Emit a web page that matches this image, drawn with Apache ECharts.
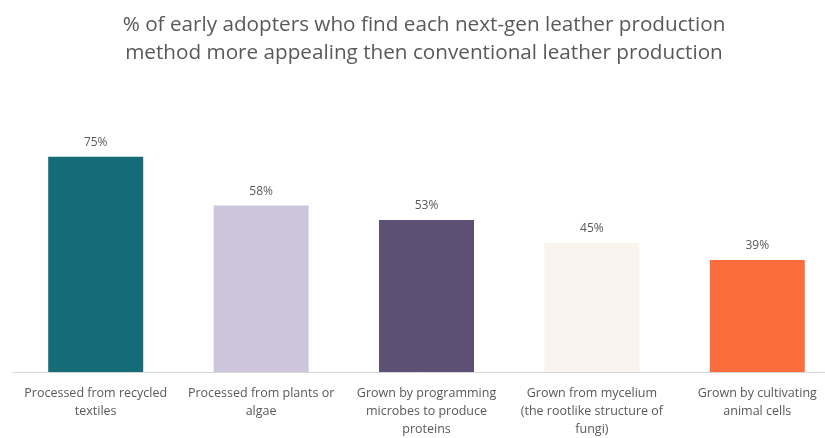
<!DOCTYPE html>
<html>
<head>
<meta charset="utf-8">
<script src="https://cdn.jsdelivr.net/npm/echarts@6/dist/echarts.min.js"></script>
<style>
  html, body { margin: 0; padding: 0; background: #fff; }
  #chartmain { width: 825px; height: 438px; }
</style>
</head>
<body>
<div id="chartmain"></div>
<script>
var titleText = '% of early adopters who find each next-gen leather production\nmethod more appealing then conventional leather production';
var categories = [
    'Processed from recycled\ntextiles',
    'Processed from plants or\nalgae',
    'Grown by programming\nmicrobes to produce\nproteins',
    'Grown from mycelium\n(the rootlike structure of\nfungi)',
    'Grown by cultivating\nanimal cells'
];
var values = [75, 58, 53, 45, 39];
var barColors = ['#156b78', '#cdc5dc', '#5e5074', '#f9f5ee', '#fb6d3c'];

var myChart = echarts.init(document.getElementById('chartmain'));
var option = {
    animation: false,
    title: {
        text: titleText,
        left: 419,
        textAlign: 'center',
        top: 6,
        textStyle: {
            fontFamily: 'Open Sans',
            fontSize: 20.7,
            fontWeight: 'normal',
            color: '#595959',
            lineHeight: 28
        }
    },
    grid: {
        left: 13,
        width: 827,
        top: 85,
        bottom: 66,
        containLabel: false,
        outerBoundsMode: 'none'
    },
    xAxis: {
        type: 'category',
        data: categories,
        axisLine: { lineStyle: { color: '#d9d9d9', width: 1 } },
        axisTick: { show: false },
        axisLabel: {
            interval: 0,
            margin: 12,
            fontFamily: 'Open Sans',
            fontSize: 12.5,
            color: '#595959',
            lineHeight: 18
        }
    },
    yAxis: {
        type: 'value',
        min: 0,
        max: 100,
        show: false
    },
    series: [
        {
            type: 'bar',
            barWidth: 95,
            data: values.map(function (v, i) {
                return { value: v, itemStyle: { color: barColors[i] } };
            }),
            label: {
                show: true,
                position: 'top',
                distance: 8,
                formatter: '{c}%',
                fontFamily: 'Open Sans',
                fontSize: 12,
                color: '#595959'
            }
        }
    ]
};
myChart.setOption(option);
</script>
</body>
</html>
